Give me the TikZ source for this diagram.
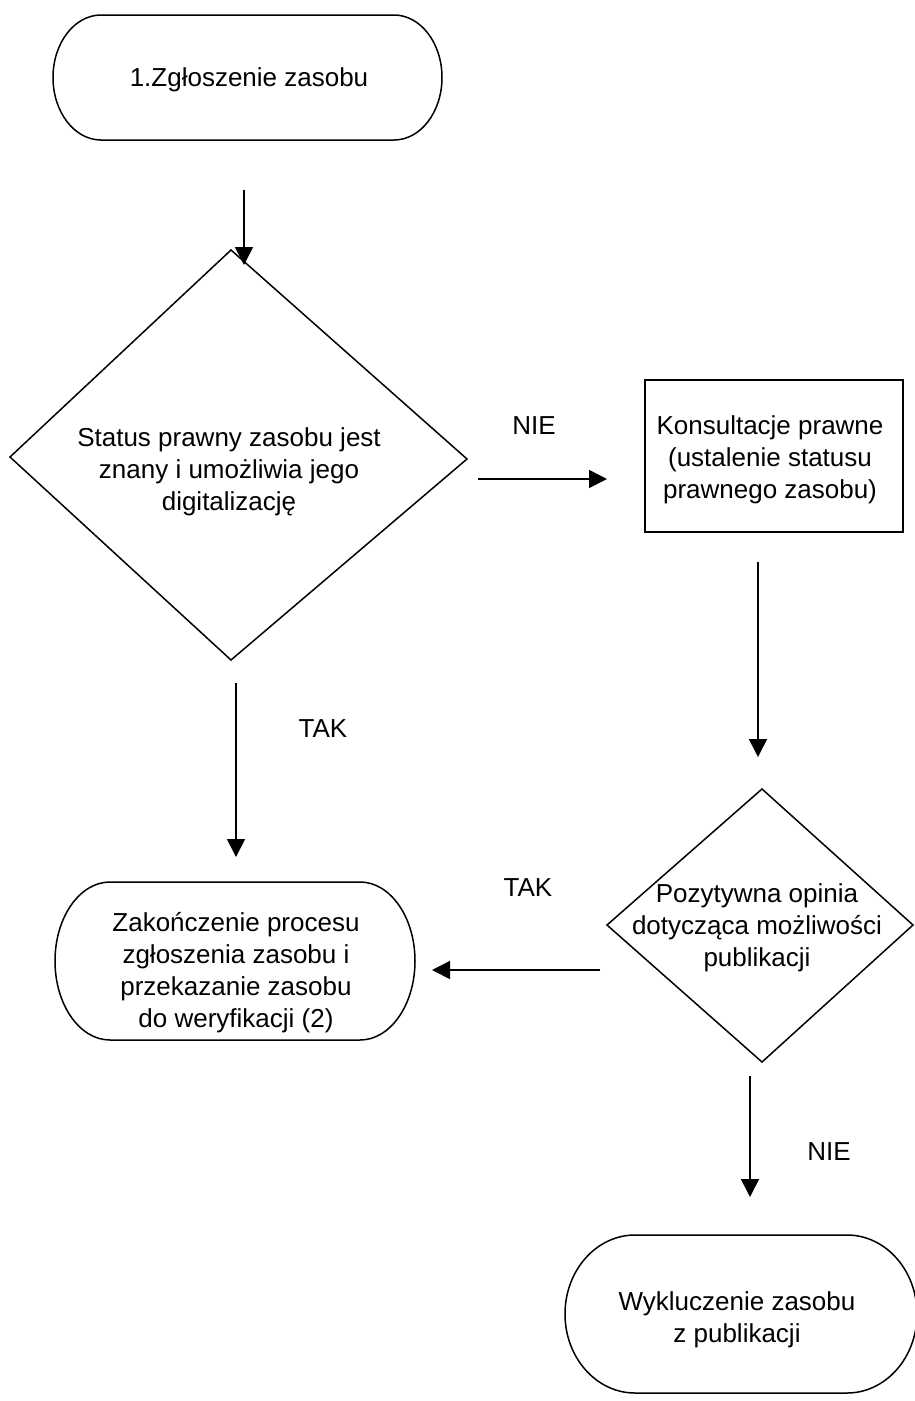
\documentclass[tikz,border=0pt]{standalone}
\usepackage{fontspec}
\setmainfont{Liberation Sans}
\usetikzlibrary{arrows.meta,calc}
\begin{document}
\begin{tikzpicture}[x=1pt,y=-1pt,
  txt/.style={align=center,font=\fontsize{26}{32}\selectfont,inner sep=0pt},
  outline/.style={line width=1.5pt,line join=miter},
  conn/.style={line width=1.6pt,-{Triangle[length=18pt,width=18pt]}}]
\useasboundingbox (0,0) rectangle (914,1401);

% top terminator
\draw[outline] (101,15) -- (394,15) arc[start angle=-90,end angle=90,x radius=48,y radius=62.5]
  -- (101,140) arc[start angle=90,end angle=270,x radius=48,y radius=62.5] -- cycle;
\node[txt] (start) at (249,80) {1.Zgłoszenie zasobu};

% decision 1
\coordinate (d1L) at (10,457);
\coordinate (d1T) at (231,250);
\coordinate (d1R) at (467,459);
\coordinate (d1B) at (231,660);
\draw[outline] (d1L) -- (d1T) -- (d1R) -- (d1B) -- cycle;
\node[txt] (dec1) at (229,472) {Status prawny zasobu jest\\znany i umożliwia jego\\digitalizację};

% box
\draw[outline] (645,380) rectangle (903,532);
\node[txt] (kons) at (770,460) {Konsultacje prawne\\(ustalenie statusu\\prawnego zasobu)};

% decision 2
\coordinate (d2L) at (607,925);
\coordinate (d2T) at (762,789);
\coordinate (d2R) at (913,925);
\coordinate (d2B) at (762,1062);
\draw[outline] (d2L) -- (d2T) -- (d2R) -- (d2B) -- cycle;
\node[txt] (dec2) at (757,928) {Pozytywna opinia\\dotycząca możliwości\\publikacji};

% bottom-left terminator
\draw[outline] (110,882) -- (360,882) arc[start angle=-90,end angle=90,x radius=55,y radius=79]
  -- (110,1040) arc[start angle=90,end angle=270,x radius=55,y radius=79] -- cycle;
\node[txt] (end1) at (236,973) {Zakończenie procesu\\zgłoszenia zasobu i\\przekazanie zasobu\\do weryfikacji (2)};

% bottom-right terminator
\draw[outline] (635,1235) -- (847,1235) arc[start angle=-90,end angle=90,x radius=70,y radius=79]
  -- (635,1393) arc[start angle=90,end angle=270,x radius=70,y radius=79] -- cycle;
\node[txt] (end2) at (737,1320) {Wykluczenie zasobu\\z publikacji};

% connectors
\coordinate (a1s) at (244,190); \coordinate (a1e) at (244,265);
\coordinate (a2s) at (478,479); \coordinate (a2e) at (607,479);
\coordinate (a3s) at (236,683); \coordinate (a3e) at (236,857);
\coordinate (a4s) at (758,562); \coordinate (a4e) at (758,757);
\coordinate (a5s) at (600,970); \coordinate (a5e) at (432,970);
\coordinate (a6s) at (750,1076); \coordinate (a6e) at (750,1197);
\draw[conn] (a1s) -- (a1e);
\draw[conn] (a2s) -- (a2e);
\draw[conn] (a3s) -- (a3e);
\draw[conn] (a4s) -- (a4e);
\draw[conn] (a5s) -- (a5e);
\draw[conn] (a6s) -- (a6e);

% labels
\node[txt] (nie1) at (534,426) {NIE};
\node[txt] (tak1) at (323,729) {TAK};
\node[txt] (tak2) at (528,888) {TAK};
\node[txt] (nie2) at (829,1152) {NIE};
\end{tikzpicture}
\end{document}
